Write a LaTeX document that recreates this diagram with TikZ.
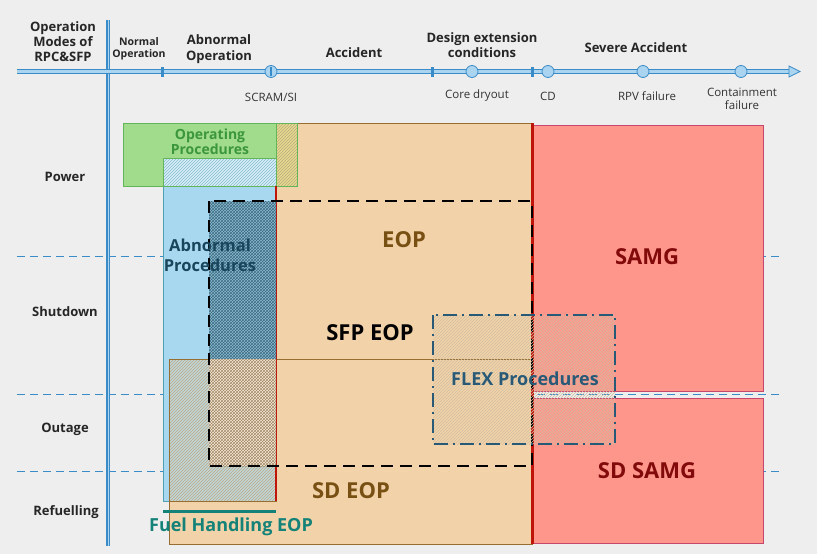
\documentclass[tikz,border=0pt]{standalone}
\usepackage{fontspec}
\setmainfont{Open Sans}
\usepackage{xcolor}
\usetikzlibrary{positioning,patterns,arrows.meta}

\definecolor{bggray}{RGB}{238,238,238}
\definecolor{axisblue}{RGB}{58,140,200}
\definecolor{axislight}{RGB}{170,212,240}
\definecolor{opgreen}{RGB}{160,220,140}
\definecolor{opgreenline}{RGB}{100,180,90}
\definecolor{opgreentext}{RGB}{60,150,60}
\definecolor{abblue}{RGB}{168,216,240}
\definecolor{abline}{RGB}{80,160,180}
\definecolor{abtext}{RGB}{25,70,90}
\definecolor{eopfill}{RGB}{242,210,168}
\definecolor{eopline}{RGB}{150,110,50}
\definecolor{eoptext}{RGB}{120,80,20}
\definecolor{mixyel}{RGB}{226,218,140}
\definecolor{samgfill}{RGB}{255,150,140}
\definecolor{samgline}{RGB}{200,70,110}
\definecolor{samgtext}{RGB}{130,10,10}
\definecolor{cutred}{RGB}{190,20,10}
\definecolor{flexline}{RGB}{40,90,120}
\definecolor{fueltext}{RGB}{20,130,120}

\tikzset{
  hdr/.style={font=\bfseries\fontsize{13}{15}\selectfont, align=center, inner sep=0pt, text=black!85},
  evt/.style={font=\fontsize{11.5}{13}\selectfont, align=center, inner sep=0pt, text=black!80},
  rowlbl/.style={font=\bfseries\fontsize{13}{15}\selectfont, inner sep=0pt, text=black!85},
  biglbl/.style={font=\bfseries\fontsize{22}{24}\selectfont, inner sep=0pt},
  midlbl/.style={font=\bfseries\fontsize{16.5}{20}\selectfont, align=center, inner sep=0pt},
  modeline/.style={axisblue, dash pattern=on 8pt off 5pt, line width=0.8pt},
  evtdot/.style={circle, draw=axisblue, fill=axislight, line width=0.8pt, minimum size=12pt, inner sep=0pt},
  tickbar/.style={fill=axisblue, minimum width=3pt, minimum height=10pt, inner sep=0pt}
}

\begin{document}
\begin{tikzpicture}[x=1pt,y=-1pt]%[scale=2.5]
\useasboundingbox (0,0) rectangle (817,554);
\fill[bggray] (0,0) rectangle (817,554);

\foreach \y in {256,394,471}
  \draw[modeline] (17,\y) -- (783,\y);

% procedure areas
\draw[eopline, fill=eopfill] (276,123) rectangle (532,359);
\draw[eopline, fill=eopfill] (169,359) rectangle (532,544);
\draw[abline, fill=abblue] (163,158) rectangle (276,501);
\draw[eopline, preaction={fill=abblue!70!eopfill}, pattern=north east lines, pattern color=eopline!60] (169,359) rectangle (276,501);
\draw[opgreenline, fill=opgreen] (123,123) rectangle (297,186);
\draw[opgreenline, preaction={fill=abblue!45!white}, pattern=north east lines, pattern color=abline!70] (163,158) rectangle (276,186);
\draw[opgreenline, preaction={fill=mixyel}, pattern=north east lines, pattern color=eopline!60] (276,123) rectangle (297,186);
\draw[samgline, fill=samgfill] (532,125) rectangle (763,391);
\draw[samgline, fill=samgfill] (532,398) rectangle (763,543);
\draw[cutred, line width=2pt] (276,186) -- (276,501);
\draw[cutred, line width=3pt] (532,123) -- (532,544);

\fill[abblue!80!abtext] (209,201) rectangle (276,359);
\fill[pattern=crosshatch, pattern color=abtext!75!abblue] (209,201) rectangle (276,359);
\fill[eopfill!45!white] (209,359) rectangle (276,466);
\fill[pattern=crosshatch, pattern color=eopline!80!black!70] (209,359) rectangle (276,466);
\draw[black, line width=1.6pt, dash pattern=on 12pt off 7pt] (209,201) rectangle (532,466);

\draw[flexline, line width=1.6pt, dash pattern=on 14pt off 5pt on 2pt off 5pt, pattern=north east lines, pattern color=eopline!45] (433,315) rectangle (615,444);

\draw[fueltext, line width=3pt] (163,511) -- (276,511);

% axes
\coordinate (tl0) at (17,71.5);
\coordinate (tl1) at (790,71.5);
\coordinate (ax0) at (108,20);
\coordinate (ax1) at (108,546);
\draw[axisblue, line width=3.2pt] (ax0) -- (ax1);
\draw[axislight, line width=1pt] (ax0) -- (ax1);
\draw[axisblue, line width=5pt] (tl0) -- (tl1);
\draw[axislight, line width=2.2pt] (tl0) -- (tl1);
\draw[axisblue, fill=axislight, line width=0.8pt] (789,66) -- (800,71.5) -- (789,77) -- cycle;

\foreach \x in {162,432,532}
  \draw node at (\x,71.5) [tickbar]{};
\draw node (scram) at (271,71.5) [evtdot]{};
\draw node at (scram) [tickbar, minimum width=2.5pt, minimum height=9pt]{};
\foreach \x/\n in {472/cdry,548/cd,643/rpv,741/cont}
  \draw node (\n) at (\x,71.5) [evtdot]{};

% labels
\draw node (modes) at (63,42) [hdr]{Operation\\Modes of\\RPC\&SFP};
\draw node (normal) at (139,49) [hdr, font=\bfseries\fontsize{10.5}{12.5}\selectfont]{Normal\\Operation};
\draw node (abnormal) at (219,49) [hdr, font=\bfseries\fontsize{13}{16}\selectfont]{Abnormal\\Operation};
\draw node (accident) at (354,53) [hdr]{Accident};
\draw node (dec) at (482,45.5) [hdr]{Design extension\\conditions};
\draw node (severe) at (636,48) [hdr]{Severe Accident};

\draw node (scramlbl) at (271,97) [evt]{SCRAM/SI};
\draw node (cdrylbl) at (477,96) [evt]{Core dryout};
\draw node (cdlbl) at (548,96) [evt]{CD};
\draw node (rpvlbl) at (647,96) [evt]{RPV failure};
\draw node (contlbl) at (742,99) [evt, font=\fontsize{11.5}{12.5}\selectfont]{Containment\\failure};

\draw node (power) at (65,177) [rowlbl]{Power};
\draw node (shutdown) at (65,312) [rowlbl]{Shutdown};
\draw node (outage) at (65,429) [rowlbl]{Outage};
\draw node (refuel) at (66,512) [rowlbl]{Refuelling};

\draw node (oplbl) at (210,141.5) [midlbl, font=\bfseries\fontsize{14}{15}\selectfont, text=opgreentext]{Operating\\Procedures};
\draw node (ablbl) at (210,255) [midlbl, text=abtext]{Abnormal\\Procedures};
\draw node (eoplbl) at (404,240) [biglbl, text=eoptext]{EOP};
\draw node (sfplbl) at (370,333) [biglbl, text=black]{SFP EOP};
\draw node (sdeoplbl) at (351,491) [biglbl, text=eoptext]{SD EOP};
\draw node (samglbl) at (647,257) [biglbl, text=samgtext]{SAMG};
\draw node (sdsamglbl) at (647,471) [biglbl, text=samgtext]{SD SAMG};
\draw node (flexlbl) at (525,379) [midlbl, font=\bfseries\fontsize{18}{20}\selectfont, text=flexline]{FLEX Procedures};
\draw node (fuellbl) at (231,527) [midlbl, font=\bfseries\fontsize{18}{20}\selectfont, text=fueltext]{Fuel Handling EOP};
\end{tikzpicture}
\end{document}
